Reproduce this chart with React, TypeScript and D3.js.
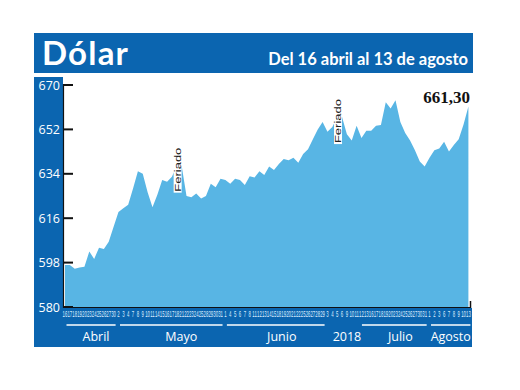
import React from "react";
import * as d3 from "d3";

// dólar observado, 16 abril - 13 agosto 2018
const dayLabels: string[] = [
  "16", "17", "18", "19", "20", "23", "24", "25", "26", "27", "30",
  "2", "3", "4", "7", "8", "9", "10", "11", "14", "15", "16", "17", "18", "21", "22", "23", "24", "25", "28", "29", "30", "31",
  "1", "4", "5", "6", "7", "8", "11", "12", "13", "14", "15", "18", "19", "20", "21", "22", "25", "26", "27", "28", "29",
  "3", "4", "5", "6", "9", "10", "11", "12", "13", "16", "17", "18", "19", "20", "23", "24", "25", "26", "27", "30", "31",
  "1", "2", "3", "6", "7", "8", "9", "10", "13",
];

const values: number[] = [
  597, 597, 595.5, 596, 596.3, 602.5, 599.5, 604, 603.5, 606.5, 612.5,
  618.5, 620, 621.5, 628, 635, 634, 626.5, 620.4, 625.5, 631.5, 630.8, 632.8, 637.3, 637.3, 625, 624.5, 626, 624, 625, 630, 628.5, 632,
  631.5, 630, 632, 631.5, 629.5, 633, 632.5, 635, 633.5, 637, 635.5, 638, 640, 639.5, 640.5, 638.5, 642, 644, 648, 652, 655,
  651, 653, 657, 657, 650, 647.5, 653.5, 648.5, 651.5, 651.5, 653.5, 653.8, 663, 660.5, 663.8, 655, 650.5, 647.5, 643.5, 639, 637,
  640.5, 643.5, 644.3, 647, 643, 645.7, 648, 654, 661.3,
];

const monthNames = ["Abril", "Mayo", "Junio", "Julio", "Agosto"];
const monthCounts = [11, 22, 21, 21, 9];
const yTicks = [580, 598, 616, 634, 652, 670];
const feriadoIdx = [24, 57];
const yearLabel = "2018";
const lastLabel = "661,30";

const BLUE = "#0b65b0";
const AREA = "#58b5e4";

export default function App() {
  const x = d3
    .scalePoint<number>()
    .domain(d3.range(values.length))
    .range([65, 468.4]);
  const y = d3.scaleLinear().domain([580, 670]).range([307, 85]);

  const area = d3
    .area<number>()
    .x((_, i) => x(i) as number)
    .y0(y(580))
    .y1((d) => y(d));

  // month spans
  let start = 0;
  const months = monthNames.map((name, i) => {
    const s = start;
    const e = start + monthCounts[i] - 1;
    start += monthCounts[i];
    return { name, s, e };
  });
  const yearX = (x(months[3].s) as number) + 19.5;
  const labelNudge = [5, 10, 6, 6, 0];

  return (
    <div style={{ position: "absolute", left: 0, top: 0 }}>
      <svg width={520} height={390} style={{ display: "block", background: "#fff" }}>
        {/* banner */}
        <rect x={34} y={33} width={439} height={40} fill={BLUE} />
        <text
          x={42}
          y={65}
          fill="#fff"
          fontFamily="Lato, 'Open Sans', sans-serif"
          fontWeight={700}
          fontSize={33}
          letterSpacing={1.2}
        >
          Dólar
        </text>
        <text
          x={468}
          y={64.5}
          fill="#fff"
          textAnchor="end"
          fontFamily="Lato, 'Open Sans', sans-serif"
          fontWeight={700}
          fontSize={16.5}
        >
          Del 16 abril al 13 de agosto
        </text>

        {/* blue frame */}
        <rect x={34} y={77} width={29} height={270} fill={BLUE} />
        <rect x={34} y={308} width={438} height={39} fill={BLUE} />

        <path d={area(values) ?? ""} fill={AREA} />

        {/* y axis */}
        <line x1={63.5} x2={63.5} y1={84} y2={308} stroke="#111" strokeWidth={1.2} />
        {yTicks.map((t) => (
          <g key={t}>
            <line x1={63} x2={73} y1={y(t)} y2={y(t)} stroke="#111" strokeWidth={2} />
            <text
              x={60}
              y={y(t)}
              dy="0.36em"
              textAnchor="end"
              fill="#fff"
              fontFamily="'Open Sans', sans-serif"
              fontSize={12.5}
            >
              {t}
            </text>
          </g>
        ))}

        {/* x axis */}
        <line x1={63} x2={471} y1={307.5} y2={307.5} stroke="#111" strokeWidth={1.2} />
        <line x1={470.5} x2={470.5} y1={301} y2={308} stroke="#111" strokeWidth={1.5} />
        {dayLabels.map((d, i) => (
          <text
            key={i}
            transform={`translate(${x(i)},316.5) scale(0.45,1)`}
            textAnchor="middle"
            fill="#dfefff"
            fontFamily="'Liberation Sans', sans-serif"
            fontSize={9.5}
          >
            {d}
          </text>
        ))}

        {/* months */}
        {months.map((m, i) => {
          const x0 = m.name === "Julio" ? yearX + 15 : (x(m.s) as number) + 1.5;
          const x1 = (x(m.e) as number) + 2;
          return (
            <g key={m.name}>
              <line x1={x0} x2={x1} y1={325} y2={325} stroke="#fff" strokeWidth={1.5} />
              <text
                x={(x0 + x1) / 2 + labelNudge[i]}
                y={341}
                textAnchor="middle"
                fill="#fff"
                fontFamily="'Open Sans', sans-serif"
                fontSize={12.5}
              >
                {m.name}
              </text>
            </g>
          );
        })}
        <text
          x={yearX}
          y={341}
          textAnchor="middle"
          fill="#fff"
          fontFamily="'Open Sans', sans-serif"
          fontSize={12.5}
        >
          {yearLabel}
        </text>

        {/* feriados */}
        {feriadoIdx.map((fi) => {
          const cx = (x(fi) as number) - 4;
          const cy = y(values[fi]) + 4;
          return (
            <g key={fi} transform={`translate(${cx},${cy}) rotate(-90)`}>
              <rect x={-23} y={-4} width={46} height={8} fill="#fff" />
              <text
                x={0}
                y={0}
                dy="0.34em"
                textAnchor="middle"
                fill="#222"
                fontFamily="'Liberation Sans', sans-serif"
                fontSize={9.5}
                textLength={44}
                lengthAdjust="spacingAndGlyphs"
              >
                Feriado
              </text>
            </g>
          );
        })}

        <text
          x={470}
          y={103}
          textAnchor="end"
          fill="#111"
          fontFamily="'Liberation Serif', serif"
          fontWeight={700}
          fontSize={17}
        >
          {lastLabel}
        </text>
      </svg>
    </div>
  );
}
